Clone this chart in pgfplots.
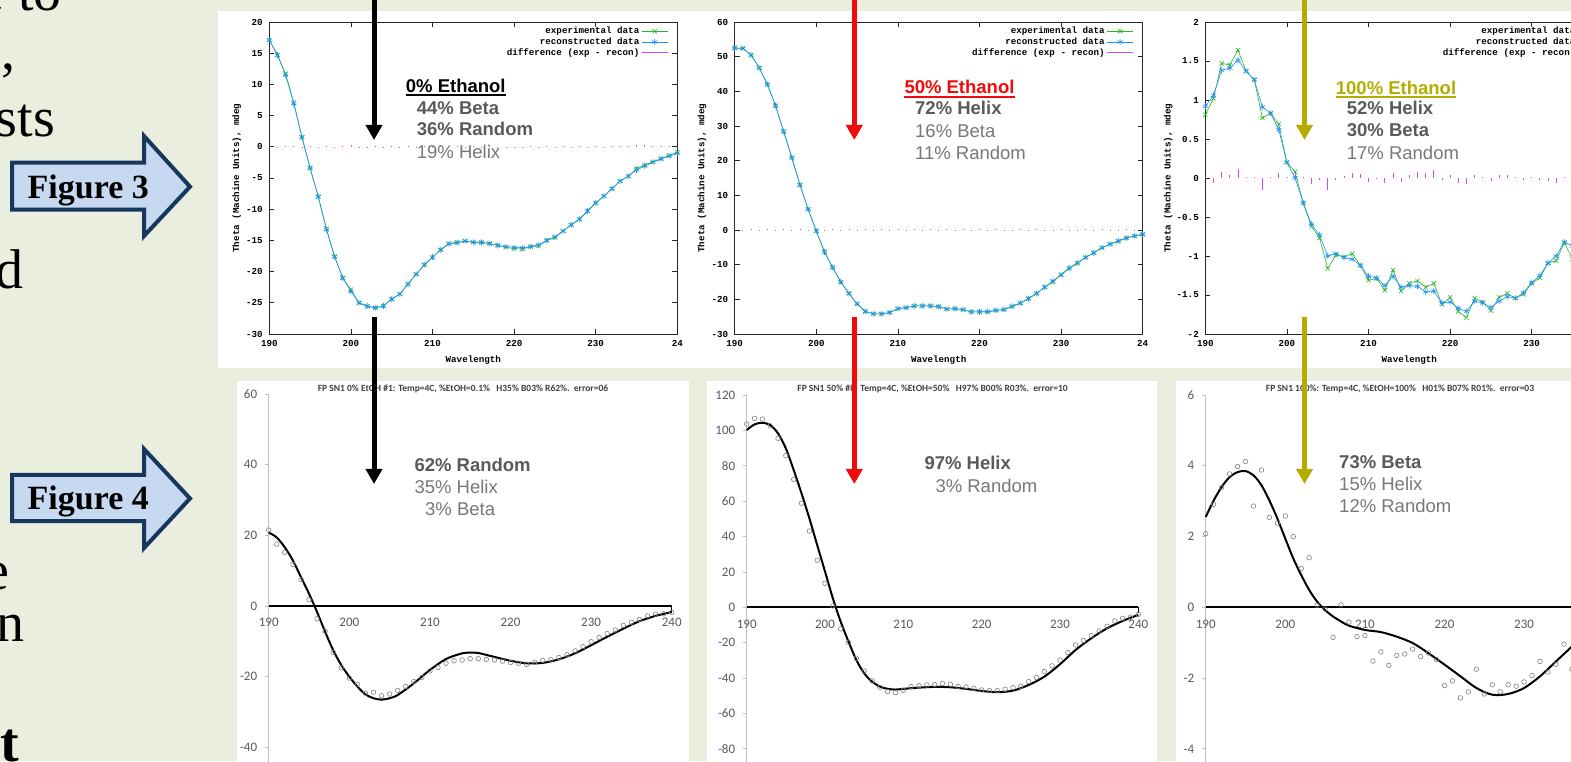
\documentclass[border=0pt]{standalone}
\usepackage{pgfplots}
\pgfplotsset{compat=1.18}
\usepackage{fontspec}
\setmainfont{Liberation Sans}
\setmonofont{Liberation Mono}
\newfontfamily\serifTNR{Liberation Serif}
\newfontfamily\calibri{Carlito}
\usetikzlibrary{arrows.meta}

\definecolor{bg}{RGB}{234,238,222}
\definecolor{gpgreen}{RGB}{40,180,40}
\definecolor{gpblue}{RGB}{30,144,255}
\definecolor{gpmag}{RGB}{215,70,250}
\definecolor{olive2}{RGB}{181,172,0}
\definecolor{redA}{RGB}{240,10,10}
\definecolor{arrowfill}{RGB}{198,217,240}
\definecolor{arrowline}{RGB}{23,55,94}
\definecolor{txtbold}{RGB}{90,90,90}
\definecolor{txtreg}{RGB}{120,120,120}
\definecolor{xlgray}{RGB}{89,89,89}
\definecolor{xlaxis}{RGB}{191,191,191}
\definecolor{xlcirc}{RGB}{128,128,128}

\newcommand{\gpfont}{\ttfamily\bfseries\fontsize{9.2}{10}\selectfont}
\newcommand{\xlfont}{\calibri\fontsize{13}{15}\selectfont}
\newcommand{\annfont}{\fontsize{18.5}{22}\selectfont}
\newcommand{\bigserif}{\serifTNR\fontsize{56}{60}\selectfont}

\pgfplotsset{
  gnu/.style={
    scale only axis, width=408pt, height=312pt,
    xmin=190, xmax=240,
    xtick={190,200,...,240},
    tick align=inside,
    major tick length=5pt,
    axis line style={black!85, line width=0.8pt},
    every tick/.style={black!85, line width=0.8pt},
    tick label style={font=\gpfont},
    yticklabel style={xshift=-3pt},
    xticklabel style={yshift=-3pt},
    /pgf/number format/assume math mode=true,
    xlabel={Wavelength},
    ylabel={Theta (Machine Units), mdeg},
    every axis x label/.style={at={(axis description cs:0.5,-0.083)}, anchor=center, font=\gpfont},
    legend plot pos=right,
    legend cell align=right,
    legend image code/.code={\draw[mark repeat=2,mark phase=2,##1] plot coordinates {(0pt,0pt) (13pt,0pt) (26pt,0pt)};},
    legend style={draw=none, fill=none, font=\gpfont, at={(1,1)}, anchor=north east, xshift=-8pt, yshift=-2pt, row sep=-1.5pt, inner sep=1pt},
  },
  gexp/.style={forget plot, gpgreen, mark=x, mark size=3pt, line width=0.6pt},
  grec/.style={forget plot, gpblue, mark=asterisk, mark size=3pt, line width=0.6pt},
  gdif/.style={forget plot, gpmag, ycomb, line width=0.8pt, mark=none},
  xl/.style={
    scale only axis,
    xmin=190, xmax=240,
    axis x line=middle, axis y line=left,
    hide obscured x ticks=false, hide obscured y ticks=false,
    x axis line style={black, line width=1.8pt, -},
    y axis line style={xlaxis, line width=0.8pt, -},
    xtick={190,200,...,240},
    x tick style={draw=none},
    y tick style={xlaxis, line width=0.8pt},
    tick align=outside,
    major tick length=4pt,
    tick label style={font=\xlfont, text=xlgray},
    /pgf/number format/assume math mode=true,
    xticklabel style={yshift=-5pt},
    yticklabel style={xshift=-4pt},
    clip=false,
  },
  xcirc/.style={only marks, mark=o, mark size=2.3pt, mark options={xlcirc, line width=0.6pt}},
  xfit/.style={black, line width=2pt, smooth, mark=none},
}

\begin{document}
\begin{tikzpicture}[x=1pt,y=1pt]
\path[use as bounding box] (0,0) rectangle (1571,761);
\clip (0,0) rectangle (1571,761);
\fill[bg] (0,0) rectangle (1571,761);
\fill[white] (218,750) rectangle (1571,393);
\fill[white] (237,380) rectangle (689,0);
\fill[white] (707,380) rectangle (1157,0);
\fill[white] (1176,380) rectangle (1571,0);

% left-hand text fragments
\node[anchor=base east, inner sep=0, font=\bigserif] at (62,750) {e to};
\node[anchor=base west, inner sep=0, font=\bigserif] at (1,691) {,};
\node[anchor=base east, inner sep=0, font=\bigserif] at (55,624) {sts};
\node[anchor=base east, inner sep=0, font=\bigserif] at (24,472) {d};
\node[anchor=base east, inner sep=0, font=\bigserif] at (10,172) {e};
\node[anchor=base east, inner sep=0, font=\bigserif] at (25,120) {n};
\node[anchor=base east, inner sep=0, font=\bigserif\bfseries] at (19,0) {t};

% Figure arrows
\filldraw[fill=arrowfill, draw=arrowline, line width=4pt, line join=miter]
  (12,598.3) -- (144,598.3) -- (144,625) -- (190,574.3) -- (144,525) -- (144,551.3) -- (12,551.3) -- cycle;
\node[anchor=base, inner sep=0, font=\serifTNR\bfseries\fontsize{34}{38}\selectfont] at (88.3,562.7) {Figure 3};
\filldraw[fill=arrowfill, draw=arrowline, line width=4pt, line join=miter]
  (12,286) -- (144,286) -- (144,312) -- (190,262.5) -- (144,213) -- (144,240) -- (12,240) -- cycle;
\node[anchor=base, inner sep=0, font=\serifTNR\bfseries\fontsize{34}{38}\selectfont] at (88.3,251.7) {Figure 4};

% ---------------- top plot 1: 0% ethanol
\begin{axis}[gnu, at={(269.3pt,427pt)}, anchor=south west,
  ymin=-30, ymax=20, ytick={-30,-25,...,20},
  xticklabels={190,200,210,220,230,24},
  every axis y label/.style={at={(axis description cs:-0.080,0.5)}, rotate=90, anchor=center, font=\gpfont}]
\addlegendimage{gpgreen, mark=x, mark size=3pt, line width=0.6pt}
\addlegendentry{experimental data}
\addlegendimage{gpblue, mark=asterisk, mark size=3pt, line width=0.6pt}
\addlegendentry{reconstructed data}
\addlegendimage{gpmag, line width=0.8pt}
\addlegendentry{difference (exp - recon)}
\addplot[gexp] coordinates {(190,17.1)(191,14.7)(192,11.7)(193,7.1)(194,1.5)(195,-3.4)(196,-8.0)(197,-13.1)(198,-17.6)(199,-21.0)(200,-22.9)(201,-25.0)(202,-25.6)(203,-25.8)(204,-25.5)(205,-24.4)(206,-23.6)(207,-22.0)(208,-20.4)(209,-18.9)(210,-17.7)(211,-16.5)(212,-15.5)(213,-15.3)(214,-15.1)(215,-15.3)(216,-15.3)(217,-15.5)(218,-15.8)(219,-16.1)(220,-16.3)(221,-16.4)(222,-16.0)(223,-15.9)(224,-15.0)(225,-14.6)(226,-13.5)(227,-12.5)(228,-11.6)(229,-10.3)(230,-9.0)(231,-7.9)(232,-6.7)(233,-5.5)(234,-4.7)(235,-3.5)(236,-2.9)(237,-2.4)(238,-1.9)(239,-1.4)(240,-0.85)};
\addplot[grec] coordinates {(190,17.1)(191,14.7)(192,11.5)(193,6.9)(194,1.6)(195,-3.4)(196,-8.0)(197,-13.3)(198,-17.6)(199,-21.0)(200,-23.2)(201,-25.0)(202,-25.5)(203,-25.8)(204,-25.5)(205,-24.4)(206,-23.6)(207,-22.0)(208,-20.4)(209,-18.9)(210,-17.7)(211,-16.5)(212,-15.6)(213,-15.4)(214,-15.1)(215,-15.3)(216,-15.3)(217,-15.5)(218,-15.8)(219,-16.0)(220,-16.1)(221,-16.2)(222,-16.0)(223,-15.7)(224,-15.0)(225,-14.4)(226,-13.5)(227,-12.5)(228,-11.6)(229,-10.3)(230,-9.0)(231,-7.9)(232,-6.7)(233,-5.5)(234,-4.7)(235,-3.7)(236,-3.1)(237,-2.5)(238,-1.95)(239,-1.5)(240,-1.05)};
\addplot[gdif] coordinates {(190,0.15)(191,-0.15)(192,0.2)(193,0.2)(194,-0.15)(195,0.15)(196,-0.15)(197,0.2)(198,-0.15)(199,0.15)(200,0.3)(201,-0.15)(202,-0.15)(203,0.15)(204,-0.15)(205,0.15)(206,-0.15)(207,0.15)(208,-0.15)(209,0.15)(210,-0.15)(211,0.15)(212,0.15)(213,0.15)(214,-0.15)(215,0.15)(216,-0.15)(217,0.15)(218,-0.15)(219,-0.15)(220,-0.2)(221,-0.2)(222,0.15)(223,-0.2)(224,0.15)(225,-0.2)(226,0.15)(227,-0.15)(228,0.15)(229,-0.15)(230,0.15)(231,-0.15)(232,0.15)(233,0.2)(234,0.15)(235,0.25)(236,0.25)(237,0.2)(238,0.15)(239,0.2)(240,0.2)};
\end{axis}

% ---------------- top plot 2: 50% ethanol
\begin{axis}[gnu, at={(734.7pt,427pt)}, anchor=south west,
  ymin=-30, ymax=60, ytick={-30,-20,...,60},
  xticklabels={190,200,210,220,230,24},
  every axis y label/.style={at={(axis description cs:-0.080,0.5)}, rotate=90, anchor=center, font=\gpfont}]
\addlegendimage{gpgreen, mark=x, mark size=3pt, line width=0.6pt}
\addlegendentry{experimental data}
\addlegendimage{gpblue, mark=asterisk, mark size=3pt, line width=0.6pt}
\addlegendentry{reconstructed data}
\addlegendimage{gpmag, line width=0.8pt}
\addlegendentry{difference (exp - recon)}
\addplot[gexp] coordinates {(190,52.6)(191,52.4)(192,50.5)(193,46.8)(194,42.0)(195,35.9)(196,28.4)(197,20.7)(198,13.0)(199,6.0)(200,-0.3)(201,-6.3)(202,-10.8)(203,-15.1)(204,-18.3)(205,-21.3)(206,-23.5)(207,-24.2)(208,-24.2)(209,-23.8)(210,-22.7)(211,-22.4)(212,-21.9)(213,-21.9)(214,-21.9)(215,-22.1)(216,-22.8)(217,-22.7)(218,-23.0)(219,-23.6)(220,-23.6)(221,-23.7)(222,-23.2)(223,-23.0)(224,-22.1)(225,-21.1)(226,-19.8)(227,-18.3)(228,-16.5)(229,-15.0)(230,-12.9)(231,-11.1)(232,-9.6)(233,-7.9)(234,-6.6)(235,-5.1)(236,-4.1)(237,-3.3)(238,-2.3)(239,-1.7)(240,-1.25)};
\addplot[grec] coordinates {(190,52.4)(191,52.4)(192,50.5)(193,46.8)(194,42.0)(195,35.9)(196,28.4)(197,21.0)(198,13.0)(199,6.0)(200,-0.3)(201,-6.3)(202,-10.8)(203,-14.9)(204,-18.3)(205,-21.3)(206,-23.5)(207,-24.2)(208,-24.2)(209,-23.8)(210,-22.7)(211,-22.4)(212,-21.9)(213,-21.9)(214,-21.9)(215,-22.1)(216,-22.8)(217,-22.7)(218,-23.0)(219,-23.6)(220,-23.6)(221,-23.5)(222,-23.2)(223,-22.9)(224,-21.9)(225,-21.1)(226,-19.8)(227,-18.3)(228,-16.5)(229,-14.7)(230,-12.9)(231,-10.9)(232,-9.4)(233,-7.9)(234,-6.6)(235,-5.1)(236,-4.1)(237,-3.1)(238,-2.3)(239,-1.7)(240,-1.25)};
\addplot[gdif] coordinates {(190,0.25)(191,-0.25)(192,0.25)(193,-0.25)(194,0.25)(195,-0.25)(196,0.25)(197,-0.35)(198,0.25)(199,-0.25)(200,0.25)(201,-0.25)(202,0.25)(203,-0.3)(204,0.25)(205,-0.25)(206,0.25)(207,-0.25)(208,0.25)(209,-0.25)(210,0.25)(211,-0.25)(212,0.25)(213,-0.25)(214,0.25)(215,-0.25)(216,0.25)(217,-0.25)(218,0.25)(219,-0.25)(220,0.25)(221,-0.3)(222,0.25)(223,-0.3)(224,-0.3)(225,0.25)(226,-0.25)(227,0.25)(228,-0.25)(229,-0.3)(230,0.25)(231,-0.3)(232,-0.3)(233,0.25)(234,-0.25)(235,0.25)(236,-0.25)(237,-0.3)(238,0.25)(239,-0.25)(240,0.25)};
\end{axis}

% ---------------- top plot 3: 100% ethanol
\begin{axis}[gnu, at={(1205.3pt,427pt)}, anchor=south west,
  ymin=-2, ymax=2, ytick={-2,-1.5,-1,-0.5,0,0.5,1,1.5,2},
  every axis y label/.style={at={(axis description cs:-0.091,0.5)}, rotate=90, anchor=center, font=\gpfont}]
\addlegendimage{gpgreen, mark=x, mark size=3pt, line width=0.6pt}
\addlegendentry{experimental data}
\addlegendimage{gpblue, mark=asterisk, mark size=3pt, line width=0.6pt}
\addlegendentry{reconstructed data}
\addlegendimage{gpmag, line width=0.8pt}
\addlegendentry{difference (exp - recon)}
\addplot[gexp] coordinates {(190,0.81)(191,1.02)(192,1.47)(193,1.45)(194,1.64)(195,1.37)(196,1.26)(197,0.77)(198,0.83)(199,0.69)(200,0.20)(201,0.08)(202,-0.32)(203,-0.62)(204,-0.77)(205,-1.16)(206,-0.99)(207,-1.01)(208,-0.97)(209,-1.12)(210,-1.31)(211,-1.29)(212,-1.44)(213,-1.18)(214,-1.45)(215,-1.35)(216,-1.32)(217,-1.40)(218,-1.35)(219,-1.62)(220,-1.53)(221,-1.71)(222,-1.79)(223,-1.54)(224,-1.59)(225,-1.70)(226,-1.53)(227,-1.48)(228,-1.54)(229,-1.49)(230,-1.35)(231,-1.28)(232,-1.09)(233,-1.06)(234,-0.83)(235,-1.04)(236,-0.95)(237,-0.80)(238,-0.70)(239,-0.62)(240,-0.55)};
\addplot[grec] coordinates {(190,0.92)(191,1.06)(192,1.38)(193,1.41)(194,1.51)(195,1.37)(196,1.26)(197,0.91)(198,0.83)(199,0.62)(200,0.20)(201,0.00)(202,-0.32)(203,-0.59)(204,-0.73)(205,-1.00)(206,-0.97)(207,-1.02)(208,-1.04)(209,-1.12)(210,-1.26)(211,-1.28)(212,-1.38)(213,-1.26)(214,-1.40)(215,-1.38)(216,-1.39)(217,-1.46)(218,-1.45)(219,-1.60)(220,-1.59)(221,-1.67)(222,-1.71)(223,-1.58)(224,-1.60)(225,-1.66)(226,-1.58)(227,-1.52)(228,-1.54)(229,-1.47)(230,-1.34)(231,-1.25)(232,-1.09)(233,-1.00)(234,-0.82)(235,-0.87)(236,-0.80)(237,-0.72)(238,-0.62)(239,-0.55)(240,-0.48)};
\addplot[gdif] coordinates {(190,0.01)(191,-0.06)(192,0.08)(193,0.04)(194,0.12)(195,0.01)(196,0.01)(197,-0.15)(198,0.01)(199,0.07)(200,0.01)(201,0.08)(202,0.01)(203,-0.08)(204,-0.03)(205,-0.16)(206,-0.02)(207,0.03)(208,0.07)(209,0.05)(210,-0.05)(211,-0.01)(212,-0.07)(213,0.07)(214,-0.05)(215,0.04)(216,0.08)(217,0.06)(218,0.10)(219,-0.02)(220,0.04)(221,-0.06)(222,-0.08)(223,0.04)(224,0.01)(225,-0.04)(226,0.04)(227,0.04)(228,0.01)(229,-0.03)(230,0.01)(231,-0.03)(232,-0.04)(233,-0.06)(234,0.01)(235,-0.17)(236,-0.15)(237,-0.08)(238,-0.08)(239,-0.07)(240,-0.07)};
\end{axis}

% ---------------- bottom plot 1
\begin{axis}[xl, at={(268.7pt,-57pt)}, anchor=south west, width=403pt, height=424pt,
  ymin=-60, ymax=60, ytick={-60,-40,...,60}]
\addplot[xcirc] coordinates {(190,21.5)(191,17.5)(192,15.2)(193,11.8)(194,7.5)(195,1.8)(196,-3.6)(197,-7.1)(198,-13.1)(199,-17.5)(200,-20.4)(201,-22.2)(202,-24.7)(203,-24.4)(204,-25.4)(205,-24.9)(206,-23.9)(207,-22.8)(208,-21.4)(209,-20.2)(210,-18.4)(211,-17.4)(212,-16.2)(213,-15.5)(214,-15.3)(215,-14.9)(216,-14.9)(217,-15.1)(218,-15.3)(219,-15.6)(220,-16.0)(221,-16.2)(222,-16.5)(223,-15.9)(224,-15.4)(225,-15.2)(226,-14.6)(227,-13.8)(228,-12.7)(229,-11.5)(230,-10.1)(231,-8.9)(232,-7.8)(233,-6.8)(234,-5.5)(235,-4.6)(236,-3.8)(237,-2.8)(238,-2.3)(239,-2.2)(240,-1.8)};
\addplot[xfit] coordinates {(190,20.8)(191,19.4)(192,16.6)(193,12.9)(194,8.2)(195,3.5)(196,-1.7)(197,-7.3)(198,-12.5)(199,-16.7)(200,-20.0)(201,-22.8)(202,-25.0)(203,-26.1)(204,-26.5)(205,-26.1)(206,-25.2)(208,-21.9)(210,-18.1)(212,-15.0)(214,-13.4)(215,-13.2)(216,-13.3)(218,-14.4)(220,-15.5)(222,-16.2)(224,-16.1)(226,-15.1)(228,-13.4)(230,-11.1)(232,-8.7)(234,-6.4)(236,-4.3)(238,-2.8)(240,-1.7)};
\draw[black, line width=1pt] (axis cs:240,0) -- ++(0pt,-6pt);
\end{axis}

% ---------------- bottom plot 2
\begin{axis}[xl, at={(746.7pt,-58.6pt)}, anchor=south west, width=391.6pt, height=424.6pt,
  ymin=-120, ymax=120, ytick={-120,-100,...,120}]
\addplot[xcirc] coordinates {(190,103.6)(191,106.8)(192,106.4)(193,102.6)(194,95.5)(195,85.7)(196,72.3)(197,58.8)(198,43.1)(199,26.6)(200,13.6)(201,0.8)(202,-12.2)(203,-19.8)(204,-28.8)(205,-36.0)(206,-41.6)(207,-45.2)(208,-47.6)(209,-48.2)(210,-46.9)(211,-44.8)(212,-44.3)(213,-43.9)(214,-43.7)(215,-43.1)(216,-43.5)(217,-44.8)(218,-45.0)(219,-45.8)(220,-46.7)(221,-47.1)(222,-47.1)(223,-46.3)(224,-45.4)(225,-44.6)(226,-42.0)(227,-39.7)(228,-36.3)(229,-33.1)(230,-29.8)(231,-25.6)(232,-21.3)(233,-18.8)(234,-16.0)(235,-13.4)(236,-10.7)(237,-7.7)(238,-6.2)(239,-5.5)(240,-4.0)};
\addplot[xfit] coordinates {(190,100.2)(191,103.4)(192,104.3)(193,103.0)(194,98.3)(195,89.8)(196,77.6)(197,64.4)(198,50.3)(199,35.2)(200,20.2)(201,5.1)(202,-8.1)(203,-19.4)(204,-29.8)(205,-37.3)(206,-42.0)(207,-44.8)(208,-46.1)(209,-46.5)(210,-46.1)(212,-45.4)(214,-45.0)(216,-45.2)(218,-46.1)(220,-47.3)(222,-48.0)(224,-47.1)(226,-43.9)(228,-39.2)(230,-32.2)(232,-24.1)(234,-17.5)(236,-11.9)(238,-7.7)(240,-4.3)};
\draw[black, line width=1pt] (axis cs:240,0) -- ++(0pt,-6pt);
\end{axis}

% ---------------- bottom plot 3
\begin{axis}[xl, at={(1205.7pt,-58.6pt)}, anchor=south west, width=398pt, height=424.6pt,
  ymin=-6, ymax=6, ytick={-6,-4,...,6}]
\addplot[xcirc] coordinates {(190,2.08)(191,2.91)(192,3.39)(193,3.77)(194,3.98)(195,4.12)(196,2.86)(197,3.88)(198,2.54)(199,2.38)(200,2.58)(201,2.0)(202,1.10)(203,1.40)(204,0.06)(205,-0.05)(206,-0.85)(207,0.07)(208,-0.42)(209,-0.83)(210,-0.80)(211,-1.52)(212,-1.26)(213,-1.64)(214,-1.36)(215,-1.32)(216,-1.18)(217,-1.39)(218,-1.29)(219,-1.48)(220,-2.21)(221,-2.08)(222,-2.56)(223,-2.39)(224,-1.75)(225,-2.45)(226,-2.19)(227,-2.39)(228,-2.19)(229,-2.23)(230,-2.11)(231,-1.93)(232,-1.53)(233,-1.83)(234,-1.61)(235,-1.04)(236,-1.75)};
\addplot[xfit] coordinates {(190,2.55)(191,3.02)(192,3.40)(193,3.68)(194,3.82)(195,3.85)(196,3.73)(197,3.45)(198,3.02)(199,2.51)(200,1.94)(201,1.38)(202,0.91)(203,0.49)(204,0.16)(205,-0.08)(206,-0.26)(207,-0.40)(208,-0.52)(210,-0.64)(212,-0.70)(214,-0.83)(216,-1.01)(218,-1.30)(220,-1.62)(222,-1.95)(224,-2.28)(226,-2.47)(228,-2.45)(230,-2.28)(232,-1.95)(234,-1.53)(236,-1.11)(238,-0.69)(240,-0.31)};
\end{axis}

% ---------------- annotations, top row
\node[anchor=base west, inner sep=0, font=\annfont\bfseries] (t1) at (405.7,668.7) {0\% Ethanol};
\draw[line width=1.8pt] ([yshift=-2.7pt]t1.base west) -- ([yshift=-2.7pt]t1.base east);
\node[anchor=base west, inner sep=0, font=\annfont\bfseries, text=txtbold] at (416.7,646.7) {44\% Beta};
\node[anchor=base west, inner sep=0, font=\annfont\bfseries, text=txtbold] at (416.7,625) {36\% Random};
\node[anchor=base west, inner sep=0, font=\annfont, text=txtreg] at (416.7,602) {19\% Helix};

\node[anchor=base west, inner sep=0, font=\annfont\bfseries, text=redA] (t2) at (904.3,667) {50\% Ethanol};
\draw[redA, line width=1.8pt] ([yshift=-2.7pt]t2.base west) -- ([yshift=-2.7pt]t2.base east);
\node[anchor=base west, inner sep=0, font=\annfont\bfseries, text=txtbold] at (915,646) {72\% Helix};
\node[anchor=base west, inner sep=0, font=\annfont, text=txtreg] at (915,623.7) {16\% Beta};
\node[anchor=base west, inner sep=0, font=\annfont, text=txtreg] at (915,601) {11\% Random};

\node[anchor=base west, inner sep=0, font=\annfont\bfseries, text=olive2] (t3) at (1335.7,666.3) {100\% Ethanol};
\draw[olive2, line width=1.8pt] ([yshift=-2.7pt]t3.base west) -- ([yshift=-2.7pt]t3.base east);
\node[anchor=base west, inner sep=0, font=\annfont\bfseries, text=txtbold] at (1346.7,646) {52\% Helix};
\node[anchor=base west, inner sep=0, font=\annfont\bfseries, text=txtbold] at (1346.7,624) {30\% Beta};
\node[anchor=base west, inner sep=0, font=\annfont, text=txtreg] at (1346.7,601) {17\% Random};

% ---------------- annotations, bottom row
\node[anchor=base, inner sep=0, font=\calibri\bfseries\fontsize{9.5}{11}\selectfont, text=black!75] at (463,369) {FP SN1 0\% EtOH \#1: Temp=4C, \%EtOH=0.1\%~~~H35\% B03\% R62\%.~~error=06};
\node[anchor=base, inner sep=0, font=\calibri\bfseries\fontsize{9.5}{11}\selectfont, text=black!75] at (932.5,369) {FP SN1 50\% \#8: Temp=4C, \%EtOH=50\%~~~H97\% B00\% R03\%.~~error=10};
\node[anchor=base, inner sep=0, font=\calibri\bfseries\fontsize{9.5}{11}\selectfont, text=black!75] at (1400,369) {FP SN1 100\%: Temp=4C, \%EtOH=100\%~~~H01\% B07\% R01\%.~~error=03};

\node[anchor=base west, inner sep=0, font=\annfont\bfseries, text=txtbold] at (414.3,289.3) {62\% Random};
\node[anchor=base west, inner sep=0, font=\annfont, text=txtreg] at (414.3,267) {35\% Helix};
\node[anchor=base west, inner sep=0, font=\annfont, text=txtreg] at (425,245.3) {3\% Beta};

\node[anchor=base west, inner sep=0, font=\annfont\bfseries, text=txtbold] at (924.3,291) {97\% Helix};
\node[anchor=base west, inner sep=0, font=\annfont, text=txtreg] at (935.3,268.3) {3\% Random};

\node[anchor=base west, inner sep=0, font=\annfont\bfseries, text=txtbold] at (1339,292) {73\% Beta};
\node[anchor=base west, inner sep=0, font=\annfont, text=txtreg] at (1339,270.3) {15\% Helix};
\node[anchor=base west, inner sep=0, font=\annfont, text=txtreg] at (1339,248.7) {12\% Random};

% ---------------- vertical arrows
\draw[black, line width=5pt, -{Triangle[width=16pt,length=15pt]}] (374,770) -- (374,621);
\draw[black, line width=5pt, -{Triangle[width=16pt,length=15pt]}] (374,444) -- (374,277);
\draw[redA, line width=5pt, -{Triangle[width=16pt,length=15pt]}] (854.3,770) -- (854.3,621);
\draw[redA, line width=5pt, -{Triangle[width=16pt,length=15pt]}] (854.3,444) -- (854.3,277);
\draw[olive2, line width=5pt, -{Triangle[width=16pt,length=15pt]}] (1304.5,770) -- (1304.5,621);
\draw[olive2, line width=5pt, -{Triangle[width=16pt,length=15pt]}] (1304.5,444) -- (1304.5,277);
\end{tikzpicture}
\end{document}
